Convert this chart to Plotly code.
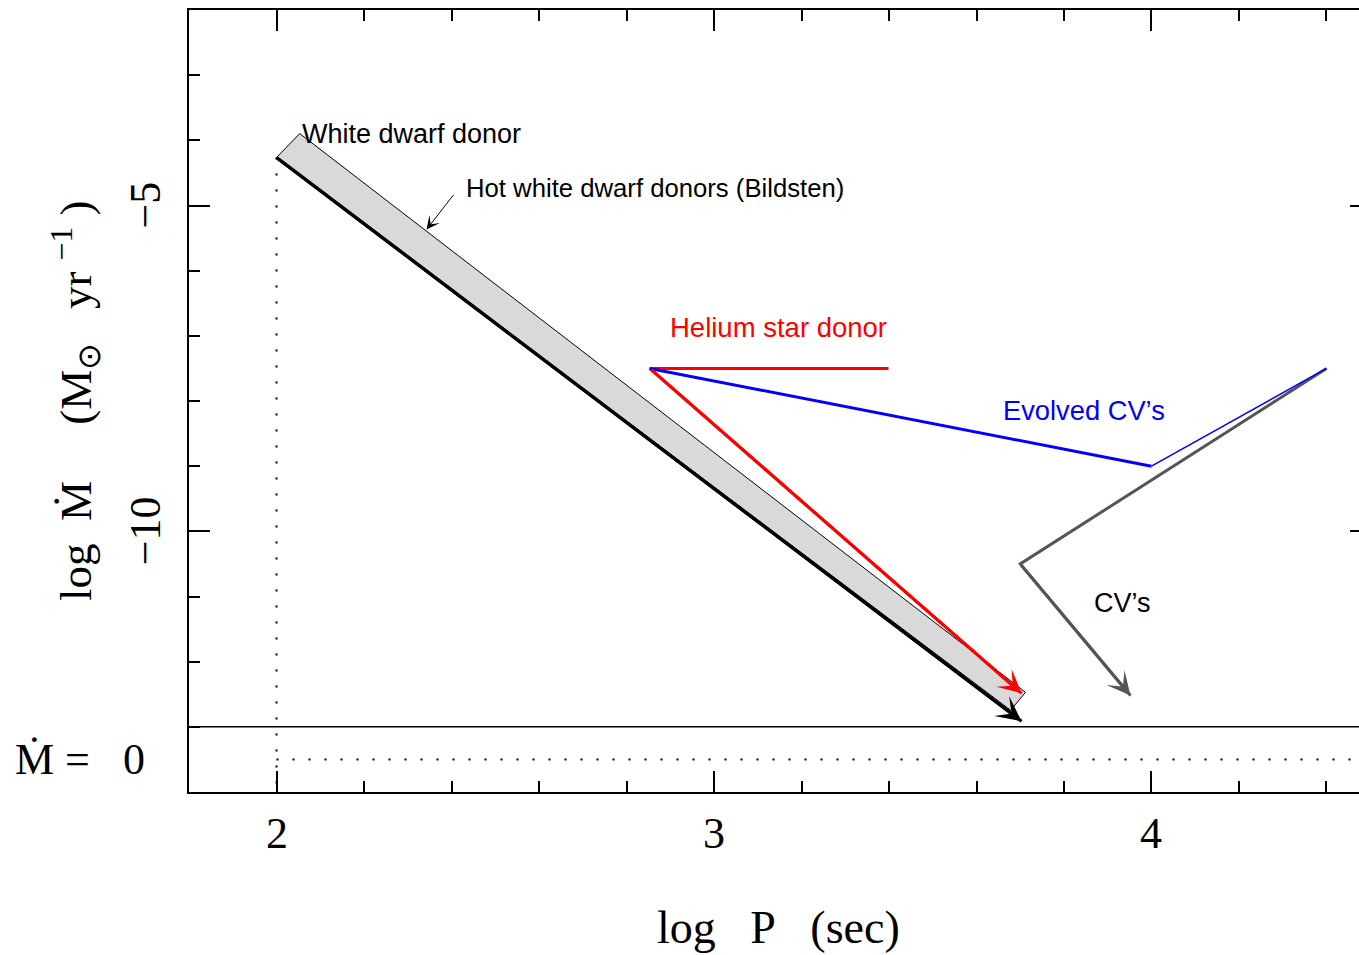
import plotly.graph_objects as go

# Axis extents (log P in sec, log Mdot in Msun/yr)
x_range = [1.8, 4.4743]
y_range = [-14.0, -2.0]
mdot_zero_level = -13.5   # row used to show Mdot = 0
break_level = -13.0       # solid separator above the Mdot = 0 row

x_tick_labels = ["2", "3", "4"]
x_tick_values = [2, 3, 4]
y_tick_labels = ["\u22125", "\u221210"]
y_tick_values = [-5, -10]

# White dwarf donor band (outline polygon) and its lower-edge track
band_x = [2.0, 2.053, 3.712, 3.678, 2.0]
band_y = [-4.264, -3.896, -12.47, -12.745, -4.264]
wd_x = [2.0, 3.703]
wd_y = [-4.264, -12.914]

# Helium star donor tracks
he_flat_x = [2.853, 3.399]
he_flat_y = [-7.5, -7.5]
he_x = [2.853, 3.703]
he_y = [-7.5, -12.485]

# Evolved CVs
evo_x = [2.853, 4.0]
evo_y = [-7.5, -9.0]
evo_thin_x = [4.0, 4.4]
evo_thin_y = [-9.0, -7.5]

# CVs
cv_x = [4.4, 3.70, 3.952]
cv_y = [-7.5, -10.5, -12.52]

# Bildsten pointer (tail -> head)
bild_x = [2.407, 2.343]
bild_y = [-4.816, -5.368]

SERIF = "Liberation Serif"
SANS = "Liberation Sans"
NB = "&nbsp;"

fig = go.Figure()

# dotted guides
fig.add_trace(go.Scatter(x=[wd_x[0], wd_x[0]], y=[wd_y[0], y_range[0]], mode="lines",
                         line=dict(color="black", width=2, dash="2px,14px"), hoverinfo="skip"))
fig.add_trace(go.Scatter(x=[wd_x[0], x_range[1]], y=[mdot_zero_level, mdot_zero_level], mode="lines",
                         line=dict(color="black", width=2, dash="2px,14px"), hoverinfo="skip"))

# band
fig.add_trace(go.Scatter(x=band_x, y=band_y, mode="lines", fill="toself", fillcolor="#d9d9d9",
                         line=dict(color="black", width=1), hoverinfo="skip"))
fig.add_trace(go.Scatter(x=wd_x, y=wd_y, mode="lines", line=dict(color="black", width=3.2),
                         hoverinfo="skip"))

# helium star donor
fig.add_trace(go.Scatter(x=he_flat_x, y=he_flat_y, mode="lines", line=dict(color="#ff0000", width=3),
                         hoverinfo="skip"))
fig.add_trace(go.Scatter(x=he_x, y=he_y, mode="lines", line=dict(color="#ff0000", width=3),
                         hoverinfo="skip"))

# CVs
fig.add_trace(go.Scatter(x=cv_x, y=cv_y, mode="lines", line=dict(color="#555555", width=3),
                         hoverinfo="skip"))

# evolved CVs
fig.add_trace(go.Scatter(x=evo_x, y=evo_y, mode="lines", line=dict(color="#0000ff", width=3),
                         hoverinfo="skip"))
fig.add_trace(go.Scatter(x=evo_thin_x, y=evo_thin_y, mode="lines", line=dict(color="#0000ff", width=1.5),
                         hoverinfo="skip"))

# right-hand ticks carrier
fig.add_trace(go.Scatter(x=[x_range[0]], y=[y_range[0]], yaxis="y2", mode="markers",
                         marker=dict(opacity=0), hoverinfo="skip"))


def arrow(xs, ys, color, width, head, size):
    fig.add_annotation(x=xs[-1], y=ys[-1], ax=xs[-2], ay=ys[-2], xref="x", yref="y",
                       axref="x", ayref="y", text="", showarrow=True, arrowhead=head,
                       arrowsize=size, arrowwidth=width, arrowcolor=color, standoff=0)


arrow(wd_x, wd_y, "black", 3.2, 3, 1.3)
arrow(he_x, he_y, "#ff0000", 3, 3, 1.3)
arrow(cv_x, cv_y, "#555555", 3, 3, 1.3)
arrow(bild_x, bild_y, "black", 1, 3, 2.2)

# separator line above Mdot = 0
fig.add_shape(type="line", xref="paper", x0=0, x1=1, yref="y", y0=break_level, y1=break_level,
              line=dict(color="black", width=1.5))

# labels
labels = [
    ("White dwarf donor", 2.309, -3.896, "black", 27),
    ("Hot white dwarf donors (Bildsten)", 2.866, -4.724, "black", 25.7),
    ("Helium star donor", 3.147, -6.871, "#ff0000", 27.5),
    ("Evolved CV\u2019s", 3.846, -8.144, "#0000ff", 27.3),
    ("CV\u2019s", 3.934, -11.104, "black", 27),
]
for txt, lx, ly, col, sz in labels:
    fig.add_annotation(x=lx, y=ly, text=txt, showarrow=False, xanchor="center", yanchor="middle",
                       font=dict(family=SANS, size=sz, color=col))

# axis numbers
for v, t in zip(x_tick_values, x_tick_labels):
    fig.add_annotation(x=v, y=0, xref="x", yref="paper", yshift=-41, text=t, showarrow=False,
                       xanchor="center", yanchor="middle", font=dict(family=SERIF, size=44, color="black"))
for v, t in zip(y_tick_values, y_tick_labels):
    fig.add_annotation(x=0, y=v, xref="paper", yref="y", xshift=-44, text=t, showarrow=False,
                       textangle=-90, xanchor="center", yanchor="middle",
                       font=dict(family=SERIF, size=44, color="black"))

# axis titles
fig.add_annotation(x=3.147, y=0, xref="x", yref="paper", yshift=-135,
                   text="log" + NB * 3 + "P" + NB * 3 + "(sec)", showarrow=False,
                   xanchor="center", yanchor="middle", font=dict(family=SERIF, size=46, color="black"))
fig.add_annotation(x=0, y=-8.0, xref="paper", yref="y", xshift=-114,
                   text="log" + NB * 2 + "\u1e40" + NB * 5 + "(M<sub>\u2299</sub>" + NB * 3
                        + "yr" + NB + "<sup>\u22121</sup>" + NB + ")",
                   showarrow=False, textangle=-90, xanchor="center", yanchor="middle",
                   font=dict(family=SERIF, size=45, color="black"))
fig.add_annotation(x=0, y=mdot_zero_level, xref="paper", yref="y", xshift=-109,
                   text="\u1e40" + NB + "=" + NB * 3 + "0", showarrow=False,
                   xanchor="center", yanchor="middle", font=dict(family=SERIF, size=44, color="black"))

fig.update_layout(
    width=1359, height=955,
    margin=dict(l=189, r=0, t=10, b=163),
    paper_bgcolor="white", plot_bgcolor="white",
    showlegend=False,
    xaxis=dict(range=x_range, showgrid=False, zeroline=False, showline=True, mirror="ticks",
               linecolor="black", linewidth=1.5, ticks="inside", ticklen=21, tickwidth=1.5,
               tickcolor="black", tick0=0, dtick=1, showticklabels=False,
               minor=dict(ticks="inside", ticklen=11, tickwidth=1.5, tickcolor="black",
                          tick0=0, dtick=0.2)),
    yaxis=dict(range=y_range, showgrid=False, zeroline=False, showline=True, mirror=False,
               linecolor="black", linewidth=1.5, ticks="inside", ticklen=21, tickwidth=1.5,
               tickcolor="black", tick0=0, dtick=5, showticklabels=False,
               minor=dict(ticks="inside", ticklen=11, tickwidth=1.5, tickcolor="black",
                          tick0=0, dtick=1)),
    yaxis2=dict(range=y_range, overlaying="y", side="right", showgrid=False, zeroline=False,
                showline=False, ticks="inside", ticklen=9, tickwidth=1.5, tickcolor="black",
                tickvals=y_tick_values, showticklabels=False),
)

fig.write_html("out.html")
